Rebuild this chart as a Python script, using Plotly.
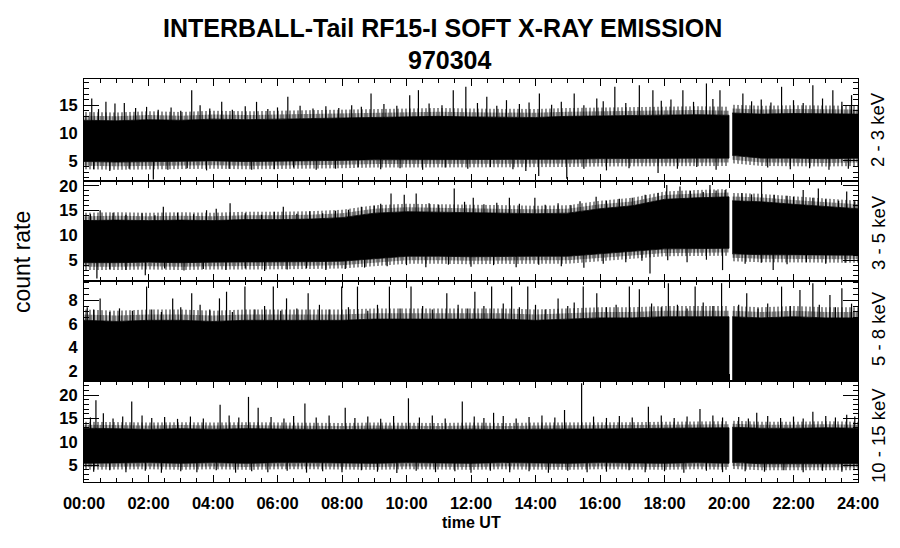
import numpy as np
import plotly.graph_objects as go
from plotly.subplots import make_subplots

# ---------------- data ----------------
HOURS = [0, 1, 2, 3, 4, 5, 6, 7, 8, 9, 10, 11, 12, 13, 14, 15, 16, 17, 18, 19,
         20.0, 20.1, 21, 22, 23, 24]
GAP_INDEX = 21  # data gap between HOURS[20] and HOURS[21]

TICK_HOURS = [0, 2, 4, 6, 8, 10, 12, 14, 16, 18, 20, 22, 24]
TICK_TEXT = ["00:00", "02:00", "04:00", "06:00", "08:00", "10:00", "12:00",
             "14:00", "16:00", "18:00", "20:00", "22:00", "24:00"]

BAND_LABELS = ["2 - 3 keV", "3 - 5 keV", "5 - 8 keV", "10 - 15 keV"]

# dense band: upper / lower edge per panel
P1_HI = [12.3, 12.2, 12.4, 12.3, 12.5, 12.4, 12.5, 12.6, 12.6, 12.8, 12.9, 13.0, 12.9,
         12.9, 12.8, 13.0, 13.1, 13.2, 13.3, 13.3, 13.2, 13.6, 13.4, 13.5, 13.4, 13.4]
P1_LO = [4.9, 4.8, 4.9, 4.9, 5.0, 4.9, 5.0, 5.0, 5.1, 5.2, 5.2, 5.3, 5.3,
         5.2, 5.3, 5.3, 5.4, 5.4, 5.5, 5.5, 5.5, 6.0, 5.5, 5.5, 5.4, 5.5]
P2_HI = [13.0, 13.1, 13.0, 13.1, 13.0, 13.2, 13.2, 13.3, 13.6, 14.5, 14.8, 14.7, 14.6,
         14.5, 14.4, 14.5, 15.4, 16.0, 17.3, 17.6, 17.8, 17.0, 16.8, 16.3, 15.8, 15.4]
P2_LO = [4.5, 4.5, 4.6, 4.5, 4.6, 4.6, 4.7, 4.7, 4.8, 5.3, 5.8, 5.8, 5.7,
         5.7, 5.8, 5.8, 6.3, 6.8, 7.3, 7.4, 7.4, 6.3, 6.1, 6.0, 6.0, 6.0]
P3_HI = [6.3, 6.2, 6.3, 6.3, 6.2, 6.3, 6.3, 6.3, 6.3, 6.4, 6.4, 6.4, 6.4,
         6.4, 6.3, 6.4, 6.5, 6.5, 6.6, 6.6, 6.6, 6.6, 6.5, 6.6, 6.5, 6.5]
P3_LO = [1.0, 1.0, 1.0, 1.0, 1.0, 1.0, 1.0, 1.0, 1.0, 1.0, 1.0, 1.0, 1.0,
         1.0, 1.0, 1.0, 1.0, 1.0, 1.0, 1.0, 1.0, 1.0, 1.0, 1.0, 1.0, 1.0]
P4_HI = [12.9, 12.8, 12.7, 12.8, 12.7, 12.8, 12.7, 12.7, 12.6, 12.7, 12.6, 12.6, 12.7,
         12.6, 12.7, 12.7, 12.8, 12.8, 12.9, 12.9, 13.0, 13.1, 12.9, 12.9, 13.0, 12.9]
P4_LO = [5.4, 5.4, 5.5, 5.4, 5.5, 5.4, 5.5, 5.5, 5.5, 5.4, 5.5, 5.5, 5.4,
         5.5, 5.5, 5.4, 5.5, 5.5, 5.4, 5.5, 5.4, 5.6, 5.3, 5.3, 5.3, 5.3]

# typical reach of the thin noise fringe beyond the dense band (count rate units)
FRINGE_UP = [1.5, 1.6, 0.9, 1.4]
FRINGE_DOWN = [1.4, 1.5, 0.0, 1.4]

# individual excursions (hour, count rate)
P1_UP = [(0.24, 16.2), (0.68, 15.6), (0.96, 15.3), (1.25, 15.4), (1.94, 14.7), (3.34, 17.7),
         (3.6, 15.0), (4.27, 15.6), (5.35, 15.6), (6.32, 16.5), (8.9, 17.1), (10.1, 16.8),
         (10.37, 17.7), (11.45, 17.7), (11.84, 18.3), (12.49, 16.5), (13.1, 15.9), (14.12, 17.1),
         (15.2, 17.1), (15.9, 16.2), (16.46, 18.3), (17.22, 18.6), (17.64, 17.7), (18.57, 17.7),
         (19.3, 18.9), (19.72, 17.7), (20.43, 17.1), (21.63, 18.3), (22.6, 18.6), (23.22, 17.7),
         (23.8, 16.8),
         (0.45, 14.3), (1.6, 14.5), (2.3, 14.2), (2.7, 14.6), (3.0, 14.0), (3.9, 14.4), (4.6, 14.2),
         (5.0, 14.8), (5.7, 14.3), (6.0, 14.6), (6.7, 14.9), (7.1, 14.4), (7.5, 14.8), (7.9, 14.5),
         (8.3, 15.0), (8.6, 14.7), (9.3, 15.2), (9.7, 14.9), (10.7, 15.3), (11.1, 15.0), (12.2, 15.4),
         (12.8, 14.9), (13.5, 15.2), (13.8, 15.5), (14.5, 15.1), (14.8, 15.6), (15.5, 15.0),
         (16.1, 15.7), (16.8, 15.4), (17.9, 15.8), (18.2, 16.0), (18.9, 15.6), (19.5, 16.1),
         (20.7, 15.7), (21.0, 16.0), (21.3, 15.5), (22.0, 15.9), (22.3, 15.4), (22.9, 16.2),
         (23.5, 15.6)]
P1_DOWN = [(2.15, 1.65), (14.97, 1.8), (14.1, 2.3), (17.8, 2.85),
           (0.3, 3.5), (0.8, 3.2), (1.4, 3.6), (2.6, 3.4), (3.2, 3.7), (3.8, 3.3), (4.5, 3.6),
           (5.2, 3.4), (5.9, 3.5), (6.5, 3.8), (7.2, 3.4), (7.8, 3.6), (8.5, 3.9), (9.2, 3.5),
           (9.8, 3.7), (10.5, 3.4), (11.2, 3.8), (11.9, 3.6), (12.6, 3.9), (13.3, 3.5), (13.7, 3.2),
           (15.5, 3.6), (16.2, 3.3), (16.9, 3.7), (18.4, 3.6), (19.0, 3.9), (19.6, 3.4), (21.2, 3.8),
           (21.9, 3.5), (22.5, 3.7), (23.1, 3.4), (23.7, 3.6)]

P2_UP = [(0.5, 15.1), (2.46, 15.8), (3.8, 15.1), (4.1, 15.4), (4.53, 16.5), (6.18, 15.8),
         (9.52, 18.5), (9.93, 18.2), (10.3, 18.5), (11.48, 19.5), (12.07, 17.6), (13.19, 17.6),
         (13.98, 17.6), (15.38, 16.9), (15.88, 17.8), (18.07, 20.2), (18.48, 19.9), (19.41, 20.2),
         (19.88, 19.2), (21.01, 20.9), (22.3, 19.2), (22.77, 19.5), (23.65, 18.9),
         (0.2, 14.3), (0.9, 14.6), (1.3, 14.2), (1.8, 14.5), (2.2, 14.1), (2.9, 14.6), (3.4, 14.3),
         (5.0, 14.5), (5.5, 14.2), (5.9, 14.8), (6.6, 14.4), (7.0, 14.9), (7.4, 14.5), (7.8, 15.0),
         (8.2, 15.2), (8.6, 15.8), (9.0, 16.0), (9.2, 16.4), (10.7, 16.5), (11.0, 16.2),
         (11.8, 16.8), (12.4, 16.3), (12.8, 16.6), (13.5, 16.4), (14.3, 16.2), (14.7, 16.5),
         (15.1, 16.1), (16.2, 17.0), (16.6, 17.4), (17.0, 17.6), (17.4, 18.2), (17.8, 18.6),
         (18.8, 19.0), (19.2, 18.8), (19.6, 19.1), (20.4, 18.6), (20.7, 18.3), (21.4, 18.2),
         (21.8, 18.0), (22.0, 17.8), (22.6, 17.6), (23.0, 17.3), (23.4, 17.0), (23.9, 16.9)]
P2_DOWN = [(0.4, 1.3), (1.9, 1.95), (17.55, 2.3), (19.8, 3.0), (21.37, 3.0),
           (0.8, 3.2), (1.3, 3.0), (2.5, 3.3), (3.1, 2.9), (3.7, 3.2), (4.4, 3.0), (5.0, 3.3),
           (5.6, 2.8), (6.3, 3.1), (6.9, 3.4), (7.5, 3.0), (8.1, 3.2), (8.7, 3.5), (9.4, 3.8),
           (10.0, 4.0), (10.6, 3.6), (11.3, 4.1), (12.0, 3.7), (12.7, 4.0), (13.4, 3.6),
           (14.1, 4.1), (14.8, 3.8), (15.5, 3.5), (16.1, 4.3), (16.8, 4.6), (17.3, 4.9),
           (18.1, 5.0), (18.7, 4.6), (19.3, 5.1), (20.5, 4.3), (21.0, 4.5), (21.8, 4.2),
           (22.4, 4.6), (23.0, 4.3), (23.6, 4.5)]

P3_UP = [(0.5, 8.14), (1.94, 9.13), (2.75, 8.14), (3.34, 8.57), (4.2, 8.14), (4.42, 8.7),
         (4.99, 9.13), (5.87, 9.13), (6.28, 8.14), (6.95, 8.57), (7.99, 9.13), (8.48, 9.13),
         (9.47, 9.13), (10.14, 9.13), (11.25, 8.57), (12.12, 8.7), (12.64, 9.13), (13.26, 9.13),
         (13.76, 9.13), (14.7, 8.14), (15.48, 9.13), (15.9, 8.57), (16.91, 9.13), (17.22, 8.9),
         (18.12, 9.42), (18.95, 9.13), (19.77, 9.42), (20.55, 8.57), (21.63, 9.13), (22.2, 8.85),
         (22.6, 9.42), (23.13, 8.43), (23.5, 9.0),
         (0.1, 7.4), (0.3, 7.2), (0.8, 7.0), (1.1, 7.3), (1.5, 7.1), (2.1, 7.2), (2.4, 7.0),
         (3.0, 7.4), (3.6, 7.6), (3.9, 7.2), (4.6, 7.0), (5.3, 7.2), (5.6, 7.5), (6.1, 7.1),
         (6.6, 7.3), (7.3, 7.6), (7.6, 7.2), (8.2, 7.4), (8.8, 7.1), (9.1, 7.6), (9.8, 7.3),
         (10.5, 7.5), (10.8, 7.2), (11.6, 7.6), (11.9, 7.3), (12.4, 7.5), (13.0, 7.7), (13.5, 7.4),
         (14.0, 7.6), (14.3, 7.2), (15.0, 7.5), (15.2, 7.8), (16.2, 7.4), (16.5, 7.6), (17.6, 7.7),
         (17.9, 7.4), (18.4, 7.6), (18.7, 7.3), (19.2, 7.8), (19.5, 7.5), (20.3, 7.6), (20.9, 7.3),
         (21.2, 7.7), (21.9, 7.5), (22.8, 7.6), (23.3, 7.4), (23.8, 7.7)]
P3_DOWN = []

P4_UP = [(0.37, 18.9), (0.6, 16.1), (1.48, 18.6), (4.22, 17.9), (5.1, 19.6), (5.4, 17.3),
         (6.85, 18.2), (8.1, 17.3), (10.06, 19.3), (11.73, 18.6), (12.7, 16.2), (14.9, 16.8),
         (15.43, 22.5), (17.5, 17.5), (19.1, 17.0), (20.86, 16.2), (22.6, 16.4), (23.65, 15.8),
         (0.2, 15.2), (0.9, 15.0), (1.2, 15.4), (1.8, 15.6), (2.1, 15.1), (2.5, 15.3), (2.9, 14.9),
         (3.3, 15.4), (3.7, 15.0), (4.5, 15.6), (4.8, 15.2), (5.8, 15.3), (6.2, 15.0), (6.5, 15.5),
         (7.2, 15.2), (7.6, 15.6), (8.4, 15.1), (8.8, 15.4), (9.2, 14.9), (9.6, 15.5), (10.4, 15.2),
         (10.8, 15.6), (11.2, 15.0), (12.1, 15.4), (12.4, 15.1), (13.0, 15.5), (13.4, 15.0),
         (13.8, 15.3), (14.2, 15.6), (14.6, 15.2), (15.8, 15.4), (16.2, 15.1), (16.6, 15.5),
         (17.0, 15.2), (17.9, 15.6), (18.3, 15.1), (18.7, 15.4), (19.5, 15.6), (19.8, 15.2),
         (20.3, 15.3), (20.6, 15.0), (21.2, 15.5), (21.6, 15.1), (22.0, 15.4), (22.3, 15.0),
         (23.0, 15.5), (23.3, 15.2), (23.9, 15.4)]
P4_DOWN = [(0.3, 3.6), (0.8, 3.9), (1.3, 3.5), (1.9, 3.8), (2.4, 3.4), (3.0, 3.7), (3.5, 3.5),
           (4.1, 3.9), (4.7, 3.4), (5.2, 3.7), (5.7, 3.5), (6.3, 3.8), (6.9, 3.4), (7.4, 3.7),
           (8.0, 3.5), (8.6, 3.9), (9.1, 3.6), (9.7, 3.3), (10.3, 3.8), (10.9, 3.5), (11.5, 3.7),
           (12.0, 3.4), (12.6, 3.8), (13.2, 3.5), (13.8, 3.7), (14.4, 3.4), (15.0, 3.8), (15.6, 3.5),
           (16.2, 3.6), (16.9, 3.9), (17.4, 3.5), (18.0, 3.7), (18.6, 3.4), (19.3, 3.8), (19.8, 3.5),
           (20.5, 3.7), (21.1, 3.6), (21.7, 3.9), (22.3, 3.5), (22.9, 3.8), (23.5, 3.6)]

PANELS = [
    dict(hi=P1_HI, lo=P1_LO, up=P1_UP, down=P1_DOWN, yr=[1.4, 19.7],
         ticks=[5, 10, 15], minor=1),
    dict(hi=P2_HI, lo=P2_LO, up=P2_UP, down=P2_DOWN, yr=[0.8, 21.0],
         ticks=[5, 10, 15, 20], minor=1),
    dict(hi=P3_HI, lo=P3_LO, up=P3_UP, down=P3_DOWN, yr=[1.2, 9.6],
         ticks=[2, 4, 6, 8], minor=0.5),
    dict(hi=P4_HI, lo=P4_LO, up=P4_UP, down=P4_DOWN, yr=[1.4, 23.0],
         ticks=[5, 10, 15, 20], minor=1),
]

# ---------------- figure ----------------
# the page body has an 8 px margin, so the figure is drawn 8 px smaller
OFF = 8
W, H = 900 - OFF, 548 - OFF
L, T = 84 - OFF, 79 - OFF
PW, PH = 774, 403
R, B = W - L - PW, H - T - PH

fig = make_subplots(rows=4, cols=1, shared_xaxes=True, vertical_spacing=0,
                    row_heights=[102, 100, 100, 101])

hours = np.array(HOURS, dtype=float)
segments = [slice(0, GAP_INDEX), slice(GAP_INDEX, len(HOURS))]


def poly(row, top, bot, **kw):
    for s in segments:
        xs = np.concatenate([hours[s], hours[s][::-1]])
        ys = np.concatenate([top[s], bot[s][::-1]])
        fig.add_trace(go.Scatter(x=xs, y=ys, mode="lines", fill="toself",
                                 hoverinfo="skip", showlegend=False, **kw),
                      row=row, col=1)


for i, p in enumerate(PANELS):
    row = i + 1
    hi = np.array(p["hi"], dtype=float)
    lo = np.array(p["lo"], dtype=float)
    fu, fd = FRINGE_UP[i], FRINGE_DOWN[i]
    # noise fringe drawn as thin vertical hatching
    for frac, size, sol in [(1.0, 4, 0.45), (0.55, 3, 0.7)]:
        pat = dict(shape="|", size=size, solidity=sol, fgcolor="black",
                   bgcolor="rgba(0,0,0,0)")
        if fu > 0:
            poly(row, hi + fu * frac, hi, fillcolor="rgba(0,0,0,0)", fillpattern=pat,
                 line=dict(width=0, color="rgba(0,0,0,0)"))
        if fd > 0:
            poly(row, lo, lo - fd * frac, fillcolor="rgba(0,0,0,0)", fillpattern=pat,
                 line=dict(width=0, color="rgba(0,0,0,0)"))
    # dense core
    poly(row, hi, lo, fillcolor="black", line=dict(color="black", width=0.8))

    sx, sy = [], []
    for t, v in p["up"]:
        base = float(np.interp(t, hours, hi)) - 0.5
        sx += [t, t, None]
        sy += [base, v, None]
    for t, v in p["down"]:
        base = float(np.interp(t, hours, lo)) + 0.5
        sx += [t, t, None]
        sy += [base, v, None]
    if sx:
        fig.add_trace(go.Scatter(x=sx, y=sy, mode="lines",
                                 line=dict(color="black", width=1.2),
                                 hoverinfo="skip", showlegend=False), row=row, col=1)

    fig.update_yaxes(row=row, col=1, range=p["yr"], tickvals=p["ticks"],
                     ticks="inside", ticklen=15, tickwidth=1, tickcolor="black",
                     showline=True, linecolor="black", linewidth=1, mirror="ticks",
                     showgrid=False, zeroline=False, ticklabelstandoff=2,
                     tickfont=dict(family="Liberation Sans", size=16.5, color="black",
                                   weight="bold"),
                     minor=dict(ticks="inside", ticklen=5, tickmode="linear",
                                tick0=0, dtick=p["minor"], tickcolor="black",
                                showgrid=False))
    fig.update_xaxes(row=row, col=1, range=[0, 24], tickvals=TICK_HOURS,
                     ticktext=TICK_TEXT, showticklabels=(row == 4),
                     ticks="inside", ticklen=7, tickwidth=1, tickcolor="black",
                     showline=True, linecolor="black", linewidth=1, mirror="ticks",
                     showgrid=False, zeroline=False, ticklabelstandoff=6,
                     tickfont=dict(family="Liberation Sans", size=16.5, color="black",
                                   weight="bold"),
                     minor=dict(ticks="inside", ticklen=4, tickmode="linear",
                                tick0=0, dtick=0.5, tickcolor="black", showgrid=False))


def py(ypage):
    return (79 + PH - ypage) / PH


def px(xpage):
    return (xpage - 84) / PW


annos = [
    dict(text="INTERBALL-Tail RF15-I SOFT X-RAY EMISSION", x=px(442), y=py(28),
         font=dict(size=25, weight="bold")),
    dict(text="970304", x=px(450), y=py(60), font=dict(size=25, weight="bold")),
    dict(text="time UT", x=px(471), y=py(522), font=dict(size=16, weight="bold")),
    dict(text="count rate", x=px(22), y=py(262), font=dict(size=23), textangle=-90),
]
centers = [129, 232, 328, 435]
for lab, c in zip(BAND_LABELS, centers):
    annos.append(dict(text=lab, x=px(878), y=py(c), font=dict(size=18.5), textangle=-90))

for a in annos:
    a.update(xref="paper", yref="paper", showarrow=False, xanchor="center",
             yanchor="middle")
    a["font"] = dict(family="Liberation Sans", color="black", **a["font"])
    fig.add_annotation(**a)

fig.update_layout(width=W, height=H, margin=dict(l=L, r=R, t=T, b=B),
                  paper_bgcolor="white", plot_bgcolor="white", showlegend=False,
                  font=dict(family="Liberation Sans", color="black"))

fig.write_html("out.html")
